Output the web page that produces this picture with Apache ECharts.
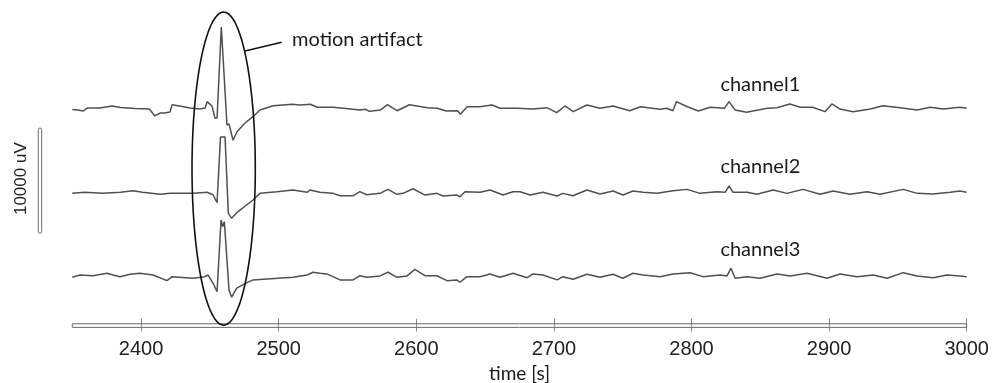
<!DOCTYPE html>
<html><head><meta charset="utf-8">
<script src="https://cdn.jsdelivr.net/npm/echarts@6/dist/echarts.min.js"></script>
<style>html,body{margin:0;padding:0;background:#fff}#c{width:992px;height:383px}</style>
</head><body><div id="c"></div>
<script>
// ---- data ----
const tickValues = [2400, 2500, 2600, 2700, 2800, 2900, 3000];
const axisName = 'time [s]';
const channelNames = ['channel1', 'channel2', 'channel3'];
const channelOffsets = [20700, 12650, 4650];      // uV baseline of each trace
const channelLabelRise = [2210, 2475, 2550];       // uV above baseline for label
const channelLabelTime = 2821;
// [time s, uV relative to channel baseline]
const ch1 = [[2350,-120],[2354,-170],[2358,-270],[2361,20],[2370,20],[2379,210],[2385,70],[2396,-30],[2406,-80],[2410,-740],[2414,-460],[2417,-460],[2421,-360],[2422.5,330],[2428,210],[2435.5,20],[2443,-80],[2446.5,20],[2448,620],[2451.5,210],[2453.7,-960],[2455.2,-930],[2458.3,7730],[2459.3,7730],[2462.4,-1600],[2463.9,-1500],[2466.8,-3050],[2469.7,-2240],[2475.5,-1410],[2481.3,-810],[2486.4,-170],[2496,240],[2510,370],[2515.5,300],[2523,370],[2528,90],[2539.5,90],[2547,0],[2559,-170],[2563,-100],[2566,-300],[2574,-170],[2579,330],[2586,-240],[2595,330],[2608,50],[2615,0],[2622,-270],[2630,-240],[2632,-580],[2637,140],[2646,140],[2655,300],[2661,0],[2673,0],[2685,-80],[2695,50],[2702,-430],[2708,210],[2714,-330],[2724,300],[2733.5,0],[2743,210],[2755,-240],[2763,140],[2777,-100],[2782,0],[2786.5,-240],[2789,620],[2797,140],[2805,-270],[2813.5,90],[2824,0],[2827.3,620],[2831.7,-170],[2840,-390],[2855,0],[2862,50],[2871.5,400],[2879,90],[2888,90],[2897,-330],[2902,400],[2908,-80],[2917.4,-330],[2930,-80],[2939,240],[2951.6,50],[2964,-170],[2973.4,90],[2983,-80],[2995,90],[3000,0]];
const ch2 = [[2350,-60],[2359,40],[2372,-60],[2385,40],[2394,190],[2401,40],[2414,-150],[2421,-60],[2438,-60],[2448,40],[2452.3,-190],[2455.2,-950],[2457.7,5300],[2461,5300],[2463.4,-1960],[2465.8,-2440],[2469.5,-1900],[2481.3,-690],[2486.4,-60],[2498.8,100],[2510.4,260],[2520.6,40],[2522.7,260],[2530,40],[2539.5,-60],[2544.6,-290],[2554,-290],[2559,100],[2564,-190],[2573.6,-60],[2579.4,320],[2586,-150],[2590.4,-60],[2597.6,380],[2606.3,-220],[2615,-60],[2619.4,-310],[2629.5,-220],[2631.7,-380],[2635.4,100],[2646.3,40],[2653.6,260],[2663,-220],[2670.3,100],[2675.4,100],[2682.7,-220],[2692,40],[2702.3,-310],[2706.6,-60],[2713.9,-290],[2724,260],[2733.5,-120],[2743,160],[2750.2,-220],[2757.5,160],[2764.8,40],[2775,-60],[2786.6,190],[2796.8,320],[2806.2,-60],[2818.5,100],[2824.4,40],[2827.3,640],[2830.2,40],[2840.4,40],[2847.6,-150],[2859.3,260],[2869.4,-60],[2881.1,320],[2893.4,-150],[2903,160],[2915.2,-150],[2927.6,100],[2937,-150],[2953.8,320],[2964,-60],[2975.6,-120],[2988,40],[2995,160],[3000,40]];
const ch3 = [[2350,-50],[2355.6,170],[2365,100],[2375.2,330],[2379.6,170],[2384.7,10],[2392,240],[2399.2,330],[2408.6,170],[2418.8,-370],[2422.5,10],[2437.7,-140],[2446.4,10],[2448.6,170],[2452.3,-620],[2455.2,-1420],[2458.1,5410],[2459.3,4770],[2460.5,5250],[2463.9,-1260],[2465.8,-1950],[2469.5,-1090],[2477,-560],[2481.3,-300],[2491.5,-210],[2510.4,-50],[2520.6,170],[2525,430],[2530,330],[2535,270],[2544.6,-300],[2554,-300],[2559,100],[2564,-50],[2573.6,80],[2579.4,430],[2586,-50],[2593.2,80],[2599,710],[2606.3,100],[2615,100],[2622.3,-370],[2629.5,-300],[2631.7,-520],[2636.8,10],[2646.3,10],[2653.6,270],[2660.8,-50],[2670.3,330],[2680.5,-90],[2684.8,270],[2692,170],[2702.3,-300],[2706.6,10],[2713.9,-240],[2724,240],[2733.5,-50],[2743,240],[2750.2,-140],[2757.5,330],[2764.8,170],[2777.2,10],[2786.6,270],[2799,390],[2808.3,10],[2820.7,170],[2825.8,80],[2828.7,810],[2831.7,-140],[2840.4,10],[2849.8,-140],[2862.2,270],[2871.6,80],[2884,330],[2898.5,-140],[2908,270],[2920.3,10],[2932,170],[2942.2,-140],[2953.8,390],[2964,80],[2975.6,-90],[2985.7,170],[2995,80],[3000,10]];
const scaleBar = { t: 2326.5, from: 8800, to: 18800, text: '10000 uV' };
const artifact = { t: 2460, v: 14950, rt: 23, rv: 14900, text: 'motion artifact',
  leadFrom: [2475.5, 26150], leadTo: [2502.2, 26970], textAt: [2509.7, 27190] };

// ---- chart ----
const xMin = 2350, xMax = 3000, yMin = 0, yMax = 31000;
const chart = echarts.init(document.getElementById('c'), null, { renderer: 'canvas' });
const traces = [ch1, ch2, ch3].map((d, i) => ({
  type: 'line', xAxisIndex: 0, yAxisIndex: 0, showSymbol: false, silent: true,
  animation: false, z: 3,
  lineStyle: { color: '#505050', width: 1.5 },
  data: d.map(p => [p[0], p[1] + channelOffsets[i]])
}));
const textFont = '20px Lato, "Open Sans", sans-serif';
const annotations = {
  type: 'custom', xAxisIndex: 0, yAxisIndex: 0, silent: true, animation: false, clip: false, z: 4,
  data: [[xMin, 0]],
  renderItem: function (params, api) {
    const c = (t, v) => api.coord([t, v]);
    const kids = [];
    // double axis line
    const a0 = c(xMin, 0), a1 = c(xMax, 0);
    kids.push({ type: 'rect', shape: { x: a0[0], y: a0[1] - 1.8, width: a1[0] - a0[0], height: 3.6 },
      style: { fill: 'none', stroke: '#6a6a6a', lineWidth: 1 } });
    // scale bar
    const s0 = c(scaleBar.t, scaleBar.to), s1 = c(scaleBar.t, scaleBar.from);
    kids.push({ type: 'rect', shape: { x: s0[0] - 1.7, y: s0[1], width: 3.4, height: s1[1] - s0[1], r: 1.5 },
      style: { fill: 'none', stroke: '#6a6a6a', lineWidth: 1 } });
    kids.push({ type: 'text', x: s0[0] - 19, y: (s0[1] + s1[1]) / 2 - 2, rotation: Math.PI / 2,
      style: { text: scaleBar.text, font: '17px "Liberation Sans", Arial, sans-serif', fill: '#222',
        align: 'center', verticalAlign: 'middle' } });
    // ellipse
    const pts = [];
    for (let k = 0; k <= 160; k++) {
      const a = k / 160 * Math.PI * 2;
      pts.push(c(artifact.t + artifact.rt * Math.cos(a), artifact.v + artifact.rv * Math.sin(a)));
    }
    kids.push({ type: 'polygon', shape: { points: pts }, style: { fill: 'none', stroke: '#111', lineWidth: 1.6 } });
    const l0 = c(artifact.leadFrom[0], artifact.leadFrom[1]), l1 = c(artifact.leadTo[0], artifact.leadTo[1]);
    kids.push({ type: 'line', shape: { x1: l0[0], y1: l0[1], x2: l1[0], y2: l1[1] }, style: { stroke: '#111', lineWidth: 1.5 } });
    const ta = c(artifact.textAt[0], artifact.textAt[1]);
    kids.push({ type: 'text', x: ta[0], y: ta[1], style: { text: artifact.text, font: textFont, fill: '#1a1a1a', align: 'left', verticalAlign: 'middle' } });
    // channel labels
    channelNames.forEach((n, i) => {
      const p = c(channelLabelTime, channelOffsets[i] + channelLabelRise[i]);
      kids.push({ type: 'text', x: p[0], y: p[1], style: { text: n, font: textFont, fill: '#1a1a1a', align: 'left', verticalAlign: 'middle' } });
    });
    return { type: 'group', children: kids };
  }
};
chart.setOption({
  animation: false,
  backgroundColor: '#fff',
  grid: { left: 72.3, right: 25.3, top: 0, bottom: 57.4, containLabel: false, outerBoundsMode: 'none' },
  xAxis: [
    { type: 'value', min: xMin, max: xMax, position: 'bottom',
      name: axisName, nameLocation: 'middle', nameGap: 39,
      nameTextStyle: { fontFamily: 'Lato, "Open Sans", sans-serif', fontSize: 19, color: '#1a1a1a' },
      axisLine: { show: false },
      axisTick: { show: true, inside: false, length: 6, customValues: tickValues, lineStyle: { color: '#888', width: 1 } },
      axisLabel: { show: true, customValues: tickValues, margin: 14, formatter: v => String(v),
        fontFamily: '"Liberation Sans", Arial, sans-serif', fontSize: 20, color: '#222' },
      splitLine: { show: false } },
    { type: 'value', min: xMin, max: xMax, position: 'bottom',
      axisLine: { show: false },
      axisTick: { show: true, inside: true, length: 7, customValues: tickValues, lineStyle: { color: '#888', width: 1 } },
      axisLabel: { show: false }, splitLine: { show: false } }
  ],
  yAxis: [{ type: 'value', min: yMin, max: yMax, show: false, splitLine: { show: false } }],
  series: traces.concat([annotations])
});
</script></body></html>
